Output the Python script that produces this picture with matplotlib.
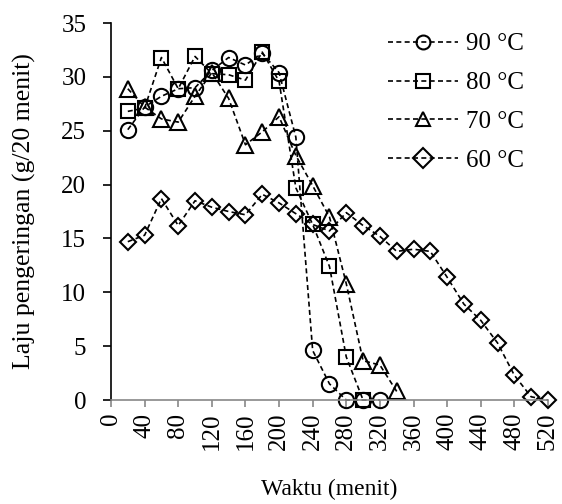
import matplotlib
matplotlib.use("Agg")
import matplotlib.pyplot as plt

plt.rcParams['font.family'] = ['Liberation Serif', 'DejaVu Serif']

t90 = [20, 40, 60, 80, 100, 120, 140, 160, 180, 200, 220, 240, 260, 280, 300, 320]
y90 = [25.1, 27.2, 28.2, 28.9, 29.0, 30.6, 31.8, 31.1, 32.2, 30.4, 24.4, 4.6, 1.5, 0, 0, 0]

t80 = [20, 40, 60, 80, 100, 120, 140, 160, 180, 200, 220, 240, 260, 280, 300]
y80 = [26.8, 27.1, 31.8, 28.9, 31.9, 30.3, 30.2, 29.7, 32.3, 29.6, 19.7, 16.3, 12.4, 4.0, 0]

t70 = [20, 40, 60, 80, 100, 120, 140, 160, 180, 200, 220, 240, 260, 280, 300, 320, 340]
y70 = [28.9, 27.2, 26.1, 25.8, 28.2, 30.4, 28.0, 23.7, 24.9, 26.3, 22.7, 19.9, 17.0, 10.8, 3.65, 3.25, 0.8]

t60 = [20, 40, 60, 80, 100, 120, 140, 160, 180, 200, 220, 240, 260, 280, 300, 320,
       340, 360, 380, 400, 420, 440, 460, 480, 500, 520]
y60 = [14.7, 15.3, 18.7, 16.2, 18.5, 17.9, 17.5, 17.2, 19.1, 18.3, 17.3, 16.3, 15.7, 17.4, 16.2, 15.2,
       13.8, 14.0, 13.8, 11.4, 8.9, 7.4, 5.3, 2.3, 0.3, 0]

labels = ['90 °C', '80 °C', '70 °C', '60 °C']
xticks = list(range(0, 521, 40))
yticks = list(range(0, 36, 5))

fig = plt.figure(figsize=(5.62, 5.04), dpi=100)
ax = fig.add_axes([0.1975, 0.2063, 0.7775, 0.748])

series = [(t90, y90, 'o'), (t80, y80, 's'), (t70, y70, '^'), (t60, y60, 'D')]
sizes = {'o': 11, 's': 10.5, '^': 11, 'D': 8.5}
for (t, y, m), lab in zip(series, labels):
    ax.plot(t, y, color='black', linestyle=(0, (3, 2)), linewidth=1.2,
            marker=m, markersize=sizes[m], markerfacecolor='none',
            markeredgecolor='black', markeredgewidth=1.5, label=lab, clip_on=False)

ax.set_xlim(0, 520)
ax.set_ylim(0, 35)
ax.set_xticks(xticks)
ax.set_yticks(yticks)
ax.tick_params(axis='x', direction='out', length=5, color='#888888', width=1.2, labelsize=18,
               labelrotation=90, pad=4)
ax.tick_params(axis='y', direction='out', length=5.8, color='black', width=1.2, labelsize=18, pad=12)
for s in ['top', 'right']:
    ax.spines[s].set_visible(False)
ax.spines['bottom'].set_color('#888888')
ax.spines['bottom'].set_linewidth(1.2)
ax.spines['left'].set_color('black')
ax.spines['left'].set_linewidth(1.2)

ax.set_ylabel('Laju pengeringan (g/20 menit)', fontsize=18.5, labelpad=18)
ax.set_xlabel('Waktu (menit)', fontsize=17, labelpad=21)

leg = ax.legend(loc='upper left', bbox_to_anchor=(388 / 562, 1 - 33 / 504),
                bbox_transform=fig.transFigure, frameon=False,
                fontsize=18, handlelength=2.8, handletextpad=0.3,
                labelspacing=0.65, borderaxespad=0, borderpad=0)
for h in leg.legend_handles:
    h.set_markersize(10)

fig.savefig('out.png', dpi=100)
